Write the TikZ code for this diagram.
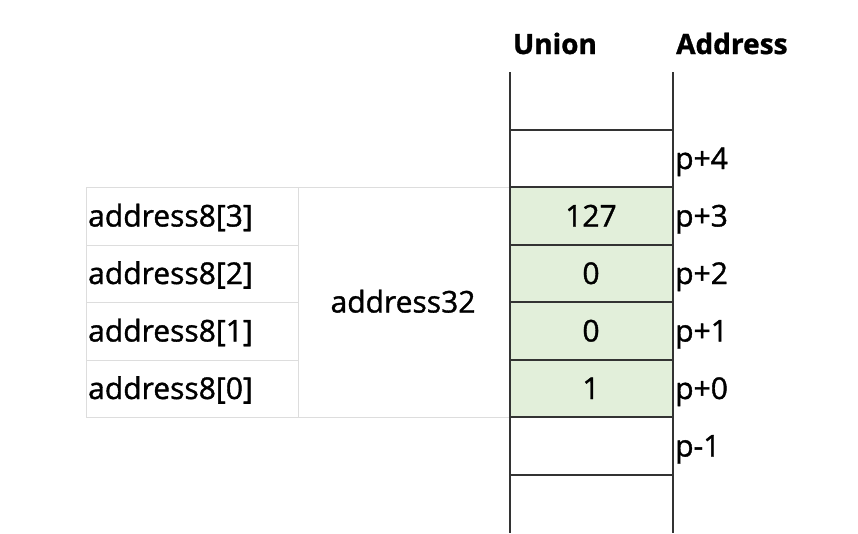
\documentclass[tikz,border=0pt]{standalone}
\usepackage{fontspec}
\setmainfont{Open Sans}[RawFeature={embolden=1.2}]
\usepackage{tikz}
\definecolor{cellgreen}{HTML}{E2EFDA}
\definecolor{gridgray}{HTML}{DDDDDD}
\definecolor{linegray}{HTML}{333333}

\begin{document}
\begin{tikzpicture}[x=1pt, y=-1pt, every node/.style={inner sep=0pt, font=\fontsize{30}{34}\selectfont}]
      \useasboundingbox (0,0) rectangle (858,533);
      % green memory cells
      \fill[cellgreen] (510,187) rectangle (673,417);
      % left table
      \draw[gridgray, line width=1pt] (86,187) rectangle (510,417);
      \draw[gridgray, line width=1pt] (298,187) -- (298,417);
      \draw[gridgray, line width=1pt] (86,245) -- (298,245);
      \draw[gridgray, line width=1pt] (86,302) -- (298,302);
      \draw[gridgray, line width=1pt] (86,360) -- (298,360);
      % union column
      \draw[linegray, line width=1.3pt] (510,130) -- (673,130);
      \draw[linegray, line width=1.3pt] (510,187) -- (673,187);
      \draw[linegray, line width=1.3pt] (510,245) -- (673,245);
      \draw[linegray, line width=1.3pt] (510,302) -- (673,302);
      \draw[linegray, line width=1.3pt] (510,360) -- (673,360);
      \draw[linegray, line width=1.3pt] (510,417) -- (673,417);
      \draw[linegray, line width=1.3pt] (510,475) -- (673,475);
      \draw[linegray, line width=1.4pt] (510,72) -- (510,533);
      \draw[linegray, line width=1.4pt] (673,72) -- (673,533);
      % headers
      \node at (555,54)[anchor=base, font=\fontsize{28}{34}\selectfont\bfseries] (union){Union};
      \node at (676,54)[anchor=base west, font=\fontsize{28}{34}\selectfont\bfseries] (addr){Address};
      % addresses
      \node at (675,169)[anchor=base west] (p4){p+4};
      \node at (675,226.5)[anchor=base west] (p3){p+3};
      \node at (675,284)[anchor=base west] (p2){p+2};
      \node at (675,341.5)[anchor=base west] (p1){p+1};
      \node at (675,399)[anchor=base west] (p0){p+0};
      \node at (675,456.5)[anchor=base west] (pm1){p-1};
      % byte values
      \node at (591,226.5)[anchor=base] (v3){127};
      \node at (591,284)[anchor=base] (v2){0};
      \node at (591,341.5)[anchor=base] (v1){0};
      \node at (591,399)[anchor=base] (v0){1};
      % members
      \node at (88,226.5)[anchor=base west] (a3){address8[3]};
      \node at (88,284)[anchor=base west] (a2){address8[2]};
      \node at (88,341.5)[anchor=base west] (a1){address8[1]};
      \node at (88,399)[anchor=base west] (a0){address8[0]};
      \node at (403,312.5)[anchor=base] (a32){address32};
      \end{tikzpicture}
\end{document}
